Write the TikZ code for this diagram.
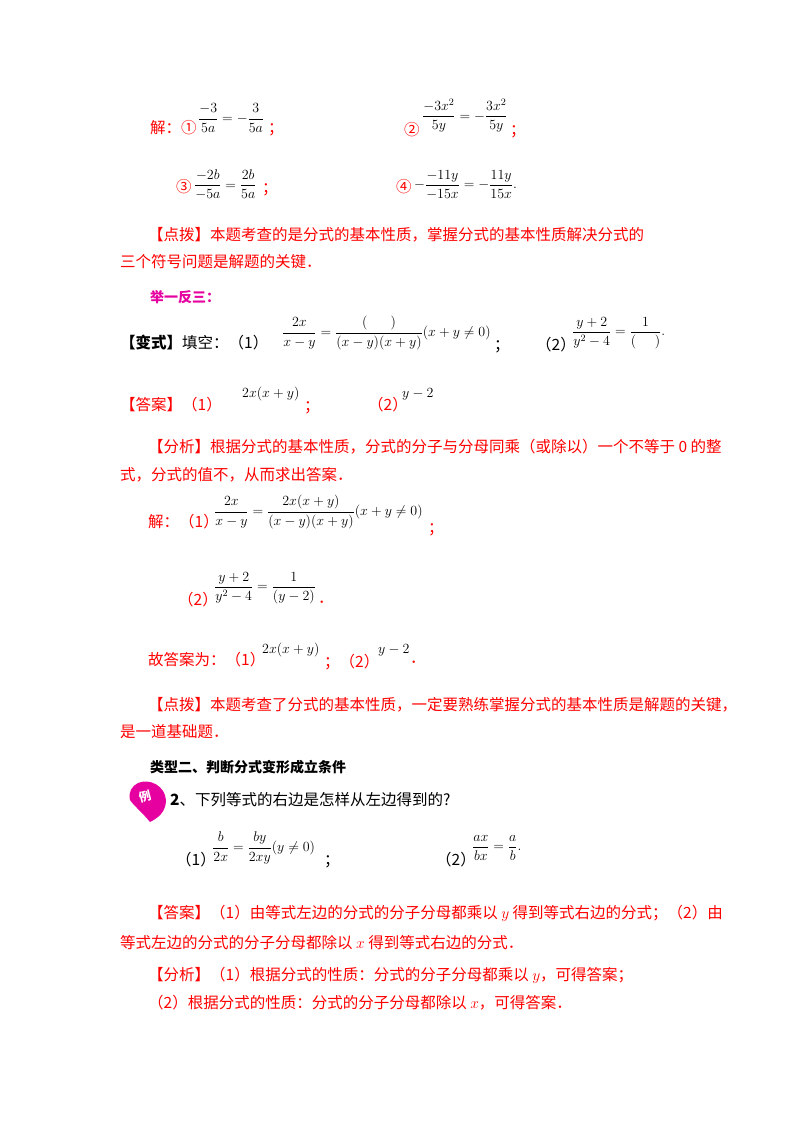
\documentclass[tikz,border=0pt]{standalone}
\usepackage{fix-cm}
\usepackage{fontspec}
\usepackage{amsmath}
\newfontfamily\cjk{Noto Sans CJK SC}
\definecolor{rd}{RGB}{255,0,0}
\definecolor{mg}{RGB}{230,0,160}
\tikzset{
 t/.style={anchor=west,inner sep=0pt,font=\cjk\fontsize{15.5}{18}\selectfont},
 r/.style={t,text=rd},
 m/.style={anchor=west,inner sep=0pt,font=\fontsize{14}{16}\selectfont}
}
\begin{document}
\begin{tikzpicture}[x=1pt,y=-1pt]
\useasboundingbox (0,0) rectangle (800,1132);
\fill[white] (0,0) rectangle (800,1132);
% solution rows
\node[r] (j1) at (150,128) {解：①};
\node[m] (e1) at (198,118) {$\dfrac{-3}{5a}=-\dfrac{3}{5a}$};
\node[r] (s1) at (268,130) {；};
\node[r] (c2) at (404,130) {②};
\node[m] (e2) at (422,116) {$\dfrac{-3x^2}{5y}=-\dfrac{3x^2}{5y}$};
\node[r] (s2) at (510,132) {；};
\node[r] (c3) at (176,187) {③};
\node[m] (e3) at (194,185) {$\dfrac{-2b}{-5a}=\dfrac{2b}{5a}$};
\node[r] (s3) at (262,190) {；};
\node[r] (c4) at (396,187) {④};
\node[m] (e4) at (414,185) {$-\dfrac{-11y}{-15x}=-\dfrac{11y}{15x}.$};
% dianbo
\node[r] (d1) at (148,235) {【点拨】本题考查的是分式的基本性质，掌握分式的基本性质解决分式的};
\node[r] (d2) at (120,262) {三个符号问题是解题的关键．};
\node[t,text=mg,font=\cjk\bfseries\fontsize{14}{16}\selectfont] (jy) at (150,297) {举一反三：};
% bianshi
\node[t] (bs) at (120,343) {\textbf{【变式】}填空：（1）};
\node[m] (b1) at (282,333) {$\dfrac{2x}{x-y}=\dfrac{(\quad\ \ )}{(x-y)(x+y)}(x+y\neq0)$};
\node[t] (bs1) at (494,347) {；};
\node[t] (bs2) at (536,345) {（2）};
\node[m] (b2) at (572,333) {$\dfrac{y+2}{y^2-4}=\dfrac{1}{(\quad\ )}.$};
% daan
\node[r] (da) at (120,405) {【答案】（1）};
\node[m] (a1) at (242,394) {$2x(x+y)$};
\node[r] (da1) at (304,408) {；};
\node[r] (da2) at (368,405) {（2）};
\node[m] (a2) at (402,394) {$y-2$};
% fenxi
\node[r] (f1) at (148,447) {【分析】根据分式的基本性质，分式的分子与分母同乘（或除以）一个不等于 0 的整};
\node[r] (f2) at (120,475) {式，分式的值不，从而求出答案．};
\node[r] (jj) at (148,522) {解：（1）};
\node[m] (j1e) at (214,512) {$\dfrac{2x}{x-y}=\dfrac{2x(x+y)}{(x-y)(x+y)}(x+y\neq0)$};
\node[r] (js) at (428,530) {；};
\node[r] (jj2) at (178,600) {（2）};
\node[m] (j2e) at (214,588) {$\dfrac{y+2}{y^2-4}=\dfrac{1}{(y-2)}$};
\node[r] (jd) at (318,602) {．};
\node[r] (gd) at (148,660) {故答案为：（1）};
\node[m] (g1) at (262,650) {$2x(x+y)$};
\node[r] (gs) at (324,662) {；（2）};
\node[m] (g2) at (378,650) {$y-2$};
\node[r] (gp) at (410,662) {．};
% dianbo 2
\node[r] (p1) at (148,705) {【点拨】本题考查了分式的基本性质，一定要熟练掌握分式的基本性质是解题的关键，};
\node[r] (p2) at (120,732) {是一道基础题．};
\node[t,font=\cjk\bfseries\fontsize{14}{16}\selectfont] (lx) at (150,767) {类型二、判断分式变形成立条件};
% example icon
\fill[mg] (138,783) .. controls (150,778) and (165,786) .. (166,800) .. controls (166,812) and (158,818) .. (150,822) .. controls (142,812) and (134,806) .. (130,800) .. controls (128,792) and (132,786) .. (138,783);
\node[inner sep=0pt,text=white,font=\cjk\bfseries\fontsize{12}{12}\selectfont,rotate=15] (li) at (145,797) {例};
\node[t] (q) at (170,800) {\textbf{2}、下列等式的右边是怎样从左边得到的?};
\node[t] (q1) at (176,860) {（1）};
\node[m] (q1e) at (212,848) {$\dfrac{b}{2x}=\dfrac{by}{2xy}(y\neq0)$};
\node[t] (q1s) at (324,862) {；};
\node[t] (q2) at (436,860) {（2）};
\node[m] (q2e) at (472,848) {$\dfrac{ax}{bx}=\dfrac{a}{b}.$};
% answers
\node[r] (aa1) at (148,913) {【答案】（1）由等式左边的分式的分子分母都乘以 $y$ 得到等式右边的分式；（2）由};
\node[r] (aa2) at (120,943) {等式左边的分式的分子分母都除以 $x$ 得到等式右边的分式．};
\node[r] (ff1) at (148,975) {【分析】（1）根据分式的性质：分式的分子分母都乘以 $y$，可得答案；};
\node[r] (ff2) at (148,1003) {（2）根据分式的性质：分式的分子分母都除以 $x$，可得答案．};
\end{tikzpicture}
\end{document}
